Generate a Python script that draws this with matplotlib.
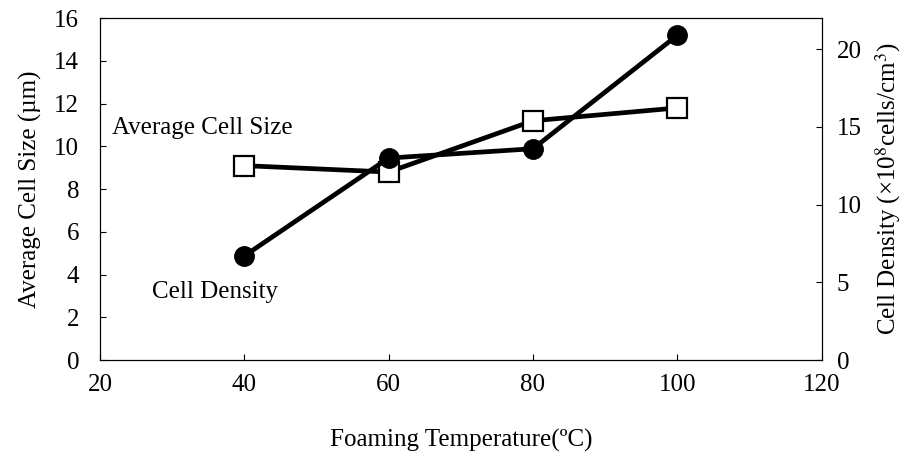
import matplotlib.pyplot as plt

# foaming temperature (°C)
temperature = [40, 60, 80, 100]
# average cell size (µm), left axis
cell_size = [9.1, 8.8, 11.2, 11.8]
# cell density (x10^8 cells/cm^3), right axis
cell_density = [6.7, 13.0, 13.6, 20.9]

plt.rcParams.update({
    "font.family": "Liberation Serif",
    "font.size": 18,
    "mathtext.fontset": "stix",
})

fig = plt.figure(figsize=(9.17, 4.67), dpi=100)
ax = fig.add_axes([0.109, 0.229, 0.787, 0.732])
ax2 = ax.twinx()

ax.plot(temperature, cell_size, color="black", linewidth=3.4, marker="s",
        markersize=14, markerfacecolor="white", markeredgecolor="black",
        markeredgewidth=1.6, zorder=3)
ax2.plot(temperature, cell_density, color="black", linewidth=3.4, marker="o",
         markersize=14, markerfacecolor="black", zorder=3)

ax.set_xlim(20, 120)
ax.set_ylim(0, 16)
ax2.set_ylim(0, 22)
ax.set_xticks([20, 40, 60, 80, 100, 120])
ax.set_yticks(range(0, 17, 2))
ax2.set_yticks([0, 5, 10, 15, 20])

for a in (ax, ax2):
    a.tick_params(direction="in", length=4, width=0.8, labelsize=18)
    for s in a.spines.values():
        s.set_linewidth(0.8)
ax.tick_params(axis="x", pad=10)
ax.tick_params(axis="y", pad=15)
ax2.tick_params(axis="y", pad=11)

ax.set_xlabel("Foaming Temperature(ºC)", fontsize=18, labelpad=24)
ax.set_ylabel("Average Cell Size (µm)", fontsize=18, labelpad=9)
ax2.set_ylabel(r"Cell Density (×10$^8$cells/cm$^3$)", fontsize=18, labelpad=8)

ax.text(21.7, 10.85, "Average Cell Size", fontsize=18, va="center", ha="left")
ax.text(27.2, 3.2, "Cell Density", fontsize=18, va="center", ha="left")

fig.savefig("out.png", dpi=100)
